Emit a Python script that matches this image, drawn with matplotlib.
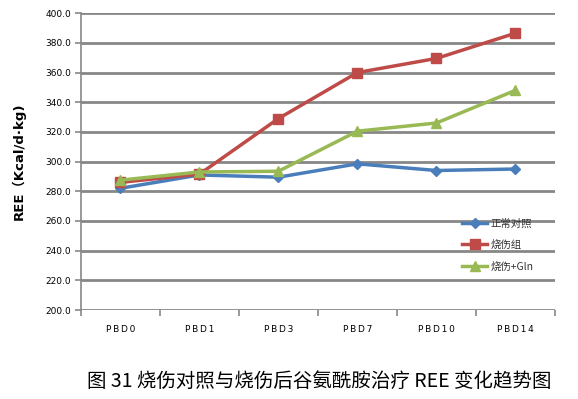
import matplotlib
matplotlib.use("Agg")
import matplotlib.pyplot as plt
import numpy as np

plt.rcParams['font.family'] = ['Noto Sans CJK SC', 'DejaVu Sans']

categories = ["PBD0", "PBD1", "PBD3", "PBD7", "PBD10", "PBD14"]
normal = [282.0, 291.0, 289.5, 298.5, 294.0, 295.0]
burn = [286.0, 291.5, 329.0, 360.0, 369.5, 386.5]
burn_gln = [287.5, 293.0, 293.5, 320.5, 326.0, 348.0]
series_names = ["正常对照", "烧伤组", "烧伤+Gln"]
yticks = np.arange(200, 401, 20)

fig = plt.figure(figsize=(5.78, 3.99), dpi=100)
ax = fig.add_axes([0.140, 0.223, 0.820, 0.744])

x = np.arange(len(categories)) + 0.5
grid_c = '#878787'
for yv in yticks:
    ax.axhline(yv, color=grid_c, lw=2.0, zorder=1)

ax.plot(x, normal, color='#4a7ebb', lw=2.5, marker='D', ms=5, label=series_names[0], zorder=3)
ax.plot(x, burn, color='#be4b48', lw=2.5, marker='s', ms=6.5, label=series_names[1], zorder=3)
ax.plot(x, burn_gln, color='#98b954', lw=2.5, marker='^', ms=6.5, label=series_names[2], zorder=3)

ax.set_xlim(0, len(categories))
ax.set_ylim(200, 400)
ax.set_yticks(yticks)
ax.set_yticklabels([f"{v:.1f}" for v in yticks], fontsize=6.5, family='DejaVu Sans')
ax.set_xticks(x)
ax.set_xticklabels(["\u2009".join(c) for c in categories], fontsize=6.5, family='DejaVu Sans')
ax.set_xticks(np.arange(0, len(categories) + 1), minor=True)
ax.tick_params(axis='x', which='major', length=0, pad=11)
ax.tick_params(axis='x', which='minor', length=4, color=grid_c, width=1.2, direction='out')
ax.tick_params(axis='y', length=4, color=grid_c, width=1.2, direction='out', pad=3)

for s in ['top', 'right', 'bottom']:
    ax.spines[s].set_visible(False)
ax.spines['left'].set_color(grid_c)
ax.spines['left'].set_linewidth(1.2)

leg = ax.legend(loc='upper left', bbox_to_anchor=(0.805, 0.31), frameon=False,
                fontsize=7.5, handlelength=2.4, handletextpad=0.3, labelspacing=1.1,
                borderaxespad=0, borderpad=0)
for t in leg.get_texts():
    t.set_color('#333333')

fig.text(0.032, 0.595, "REE（Kcal/d·kg)", rotation=90, ha='center', va='center',
         fontsize=9.5, fontweight='bold', family=['DejaVu Sans', 'Noto Sans CJK SC'])
fig.text(0.553, 0.045, "图 31 烧伤对照与烧伤后谷氨酰胺治疗 REE 变化趋势图", ha='center', va='center',
         fontsize=14)

fig.savefig("out.png", dpi=100)
